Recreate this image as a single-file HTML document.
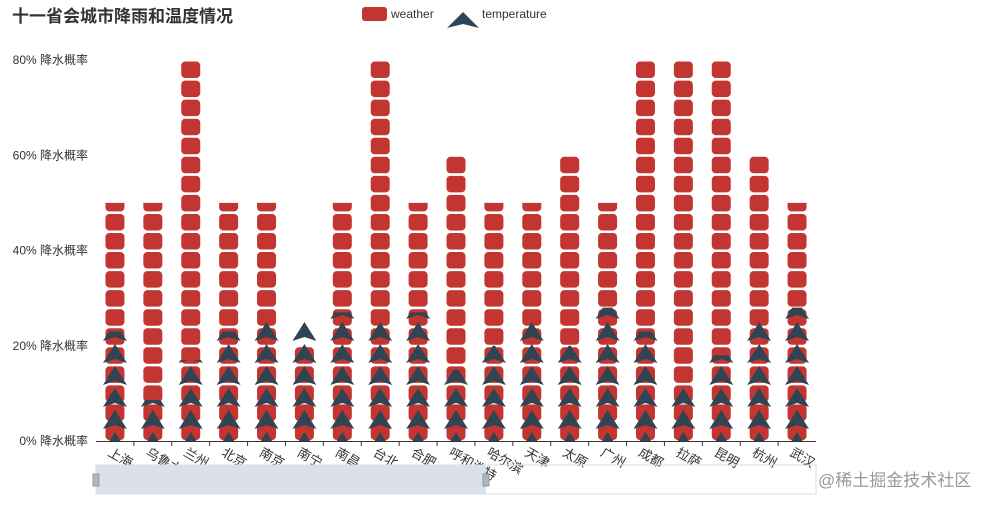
<!DOCTYPE html>
<html><head><meta charset="utf-8"><style>
body{margin:0;background:#fff;width:994px;height:505px;overflow:hidden}
svg{display:block}
text{font-family:"Liberation Sans","Noto Sans CJK SC",sans-serif}
</style></head><body>
<svg id="c" width="994" height="505">
<text x="12" y="22" font-size="17" font-weight="bold" fill="#333">十一省会城市降雨和温度情况</text>
<g><rect x="362" y="7" width="25" height="14" rx="3" fill="#c23531"/><text x="391" y="18" font-size="12" fill="#333">weather</text></g>
<g><polygon points="463,12 479,28 463,24 447,28" fill="#2f4554"/><text x="482" y="18" font-size="12" fill="#333">temperature</text></g>
<g id="plot"></g>
<g>
<rect x="96" y="465" width="720" height="29" fill="none" stroke="#ddd"/>
<rect x="96" y="465" width="390" height="29" fill="#dbe1e8"/>
<rect x="93" y="474" width="6" height="12" fill="#a7b7cc" stroke="#999"/>
<rect x="483" y="474" width="6" height="12" fill="#a7b7cc" stroke="#999"/>
</g>
<text x="818" y="486" font-size="17" fill="#999">@稀土掘金技术社区</text>
</svg>
<script>
const categories=['上海','乌鲁木齐','兰州','北京','南京','南宁','南昌','台北','合肥','呼和浩特','哈尔滨','天津','太原','广州','成都','拉萨','昆明','杭州','武汉'];
const weatherValues=[50,50,80,50,50,20,50,80,50,60,50,50,60,50,80,80,80,60,50];
const temperatureValues=[23,8.6,17,23,25,25,27,25,27,15,20,25,20,28,23,11,18,25,28];
const yTicks=[0,20,40,60,80];
const NS='http://www.w3.org/2000/svg';
const x0=96,x1=816,yb=441,yt=60;
const bw=(x1-x0)/categories.length;
const xs=i=>x0+bw*(i+0.5);
const ys=v=>yb-(v/80)*(yb-yt);
const plot=document.getElementById('plot');
function mk(t,a,p){const e=document.createElementNS(NS,t);for(const k in a)e.setAttribute(k,a[k]);(p||plot).appendChild(e);return e;}
const defs=mk('defs',{});
yTicks.forEach(v=>{const t=mk('text',{x:88,y:ys(v)+4,'font-size':12,fill:'#333','text-anchor':'end'});t.textContent=v+'% 降水概率';

});
const step=ys(0)-ys(4);
categories.forEach((c,i)=>{
 const cx=xs(i);
 const cp=mk('clipPath',{id:'cw'+i},defs);mk('rect',{x:cx-15,y:ys(weatherValues[i]),width:30,height:yb-ys(weatherValues[i])},cp);
 const g=mk('g',{'clip-path':'url(#cw'+i+')'});
 
 
 for(let y=yb;y>ys(weatherValues[i])-step;y-=step){mk('rect',{x:cx-9.5,y:y-17.5,width:19,height:16.5,rx:4,fill:'#c23531'},g);}
});
categories.forEach((c,i)=>{
 const cx=xs(i);
 const tv=temperatureValues[i];
 const cp=mk('clipPath',{id:'ct'+i},defs);mk('rect',{x:cx-15,y:ys(tv),width:30,height:yb-ys(tv)},cp);
 const g=mk('g',{'clip-path':'url(#ct'+i+')'});
 
 
 const st=22;
 for(let y=yb+10;y>ys(tv)-st;y-=st){mk('polygon',{points:`${cx},${y-19} ${cx+12},${y} ${cx},${y-4} ${cx-12},${y}`,fill:'#2f4554'},g);}
});
const ax=mk('line',{x1:x0,y1:yb+0.5,x2:x1,y2:yb+0.5,stroke:'#333'});


categories.forEach((c,i)=>{
 if(i>0){const tk=mk('line',{x1:x0+bw*i,y1:yb,x2:x0+bw*i,y2:yb+5,stroke:'#333'});
 
 }
 const cx=xs(i);
 const t=mk('text',{x:cx-8,y:yb+14,'font-size':13,fill:'#333',transform:`rotate(30 ${cx-8} ${yb+14})`});
 t.textContent=c;
 
 
});
</script>
</body></html>
